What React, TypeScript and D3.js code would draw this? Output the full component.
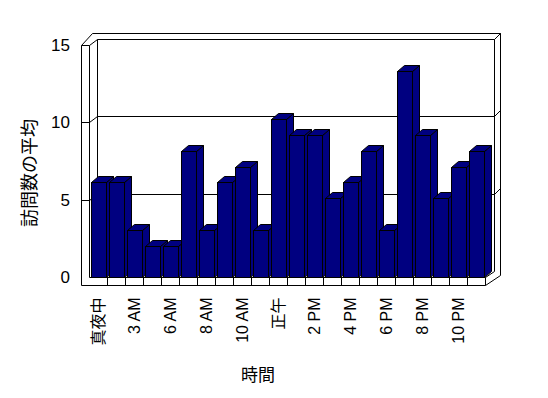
import React from "react";
import * as d3 from "d3";

// hourly categories (two hours missing in the source data)
const categories = [
  "真夜中", "1 AM", "3 AM", "4 AM", "6 AM", "7 AM", "8 AM", "9 AM", "10 AM", "11 AM",
  "正午", "1 PM", "2 PM", "3 PM", "4 PM", "5 PM", "6 PM", "7 PM", "8 PM", "9 PM", "10 PM", "11 PM",
];
const visits = [6, 6, 3, 2, 2, 8, 3, 6, 7, 3, 10, 9, 9, 5, 6, 8, 3, 13, 9, 5, 7, 8];
const yTicks = [0, 5, 10, 15];
const gridValues = [5, 10, 15];

const W = 548;
const H = 398;
const BAR = "#000080";
const DEPTH_X = 7; // bar depth projection
const DEPTH_Y = 6;

const px = (v: number) => Math.round(v) + 0.5;

export default function App() {
  const x = d3.scaleBand<string>().domain(categories).range([89, 485]);
  const yFront = d3.scaleLinear().domain([0, 15]).range([277, 45]);
  const yBack = d3.scaleLinear().domain([0, 15]).range([271, 39]);
  const yBar = d3.scaleLinear().domain([0, 15]).range([277.8, 39.3]);

  const left = px(x.range()[0]);
  const right = px(x.range()[1]);
  const base = px(yFront(0));
  const floorBottom = base + 8;
  const outerLeft = left - 8;
  const backLeft = left + 8;
  const backRight = px(494);
  const backTop = px(yBack(15));
  const backBase = px(yBack(0));
  const outerTop = backTop - 6;
  const outerRight = backRight + 6;

  const line = { stroke: "#000", strokeWidth: 1, fill: "none" };

  return (
    <svg
      width={W}
      height={H}
      style={{ position: "absolute", left: 0, top: 0, background: "#fff" }}
      fontFamily="'Liberation Sans', 'Noto Sans CJK JP', sans-serif"
    >
      {/* walls */}
      <g {...line}>
        <line x1={outerLeft} y1={px(yFront(15))} x2={outerLeft} y2={floorBottom} />
        <line x1={left} y1={px(yFront(15))} x2={left} y2={base} />
        <line x1={backLeft} y1={backTop} x2={backLeft} y2={backBase} />
        <line x1={backRight} y1={backTop} x2={backRight} y2={backBase} />
        <line x1={outerRight} y1={outerTop} x2={outerRight} y2={backBase + 4} />
        <polyline points={`${outerLeft},${px(yFront(15))} ${outerLeft + 11},${outerTop} ${outerRight},${outerTop}`} />
        <line x1={backRight} y1={backTop} x2={outerRight} y2={outerTop} />
        {gridValues.map((v) => {
          const yf = px(yFront(v));
          const yb = px(yBack(v));
          return (
            <g key={v}>
              <line x1={outerLeft} y1={yf} x2={left} y2={yf} />
              <line x1={left} y1={yf} x2={backLeft} y2={yb} />
              <line x1={backLeft} y1={yb} x2={backRight} y2={yb} />
              <line x1={backRight} y1={yb} x2={outerRight} y2={yb - 6} />
            </g>
          );
        })}
      </g>

      {/* floor */}
      <g {...line}>
        <line x1={left} y1={base} x2={right} y2={base} />
        <line x1={outerLeft} y1={floorBottom} x2={right} y2={floorBottom} />
        {categories.map((c) => (
          <line key={c} x1={px(x(c)! + x.bandwidth())} y1={base} x2={px(x(c)! + x.bandwidth())} y2={floorBottom} />
        ))}
        <line x1={right} y1={base} x2={backRight} y2={backBase} />
        <line x1={right} y1={floorBottom} x2={outerRight} y2={backBase + 4} />
      </g>

      {/* bars */}
      <g stroke="#000" strokeWidth={1} fill={BAR} strokeLinejoin="miter">
        {categories.map((c, i) => {
          const x0 = px(x(c)! + 2);
          const x1 = x0 + 15;
          const yt = px(yBar(visits[i]));
          return (
            <g key={c}>
              <polygon
                points={`${x1},${yt} ${x1 + DEPTH_X},${yt - DEPTH_Y} ${x1 + DEPTH_X},${base - DEPTH_Y} ${x1},${base}`}
              />
              <polygon
                points={`${x0},${yt} ${x0 + DEPTH_X},${yt - DEPTH_Y} ${x1 + DEPTH_X},${yt - DEPTH_Y} ${x1},${yt}`}
              />
              <rect x={x0} y={yt} width={x1 - x0} height={base - yt} />
            </g>
          );
        })}
      </g>

      {/* y tick labels */}
      <g fontSize={17} textAnchor="end" fill="#000">
        {yTicks.map((t) => (
          <text key={t} x={70} y={yFront(t)} dy="0.36em">
            {t}
          </text>
        ))}
      </g>

      {/* x tick labels, every other category */}
      <g fontSize={16} textAnchor="end" fill="#000">
        {categories.map((c, i) =>
          i % 2 === 0 ? (
            <text
              key={c}
              transform={`translate(${x(c)! + x.bandwidth() / 2},${floorBottom + 12}) rotate(-90)`}
              dy="0.35em"
            >
              {c}
            </text>
          ) : null
        )}
      </g>

      {/* axis titles */}
      <text
        transform="translate(30,173) rotate(-90)"
        textAnchor="middle"
        dy="0.35em"
        fontSize={18}
        fontFamily="'Noto Sans CJK JP', sans-serif"
      >
        訪問数の平均
      </text>
      <text x={258} y={375} textAnchor="middle" dy="0.35em" fontSize={17} fontFamily="'Noto Sans CJK JP', sans-serif">
        時間
      </text>
    </svg>
  );
}
